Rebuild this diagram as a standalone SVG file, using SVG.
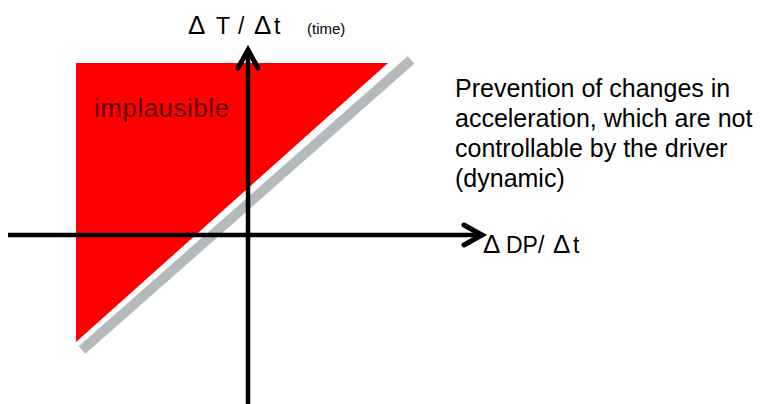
<svg xmlns="http://www.w3.org/2000/svg" width="762" height="404" viewBox="0 0 762 404">
  <style>
    text { font-family: "Liberation Sans", Arial, sans-serif; fill: #000; }
    .note { font-size: 25px; }
    .axis { stroke: #000; stroke-width: 4.5; fill: none; }
    .head { stroke: #000; stroke-width: 5; fill: none; stroke-linecap: round; stroke-linejoin: miter; }
  </style>
  <rect width="762" height="404" fill="#fff"/>

  <g id="implausible-region">
    <polygon points="76,63 388,63 76,342" fill="#ff0000"/>
    <text x="94" y="117" font-size="26" textLength="135" style="fill:#5e0000">implausible</text>
  </g>

  <g id="limit-line">
    <line x1="411" y1="60" x2="82" y2="350" stroke="#b4b9bb" stroke-width="10"/>
  </g>

  <g id="connectors">
    <line class="axis" x1="248" y1="52" x2="248" y2="404"/>
    <polyline class="head" points="238,68 248,50 258,68"/>
    <line class="axis" x1="8" y1="235" x2="480" y2="235"/>
    <polyline class="head" points="464,225 482,235 464,245"/>
  </g>

  <g id="y-label">
    <text x="188" y="34" font-size="26">Δ</text>
    <text x="216" y="34" font-size="23">T</text>
    <text x="238" y="34" font-size="23">/</text>
    <text x="254" y="34" font-size="26">Δ</text>
    <text x="274" y="34" font-size="23">t</text>
    <text x="307" y="34" font-size="15">(time)</text>
  </g>

  <g id="x-label">
    <text x="483" y="253" font-size="26">Δ</text>
    <text x="506" y="253" font-size="23">DP/</text>
    <text x="553" y="253" font-size="26">Δ</text>
    <text x="573" y="253" font-size="23">t</text>
  </g>

  <g id="note">
    <text class="note" x="455" y="97">Prevention of changes in</text>
    <text class="note" x="455" y="127">acceleration, which are not</text>
    <text class="note" x="455" y="157">controllable by the driver</text>
    <text class="note" x="455" y="187">(dynamic)</text>
  </g>
</svg>
